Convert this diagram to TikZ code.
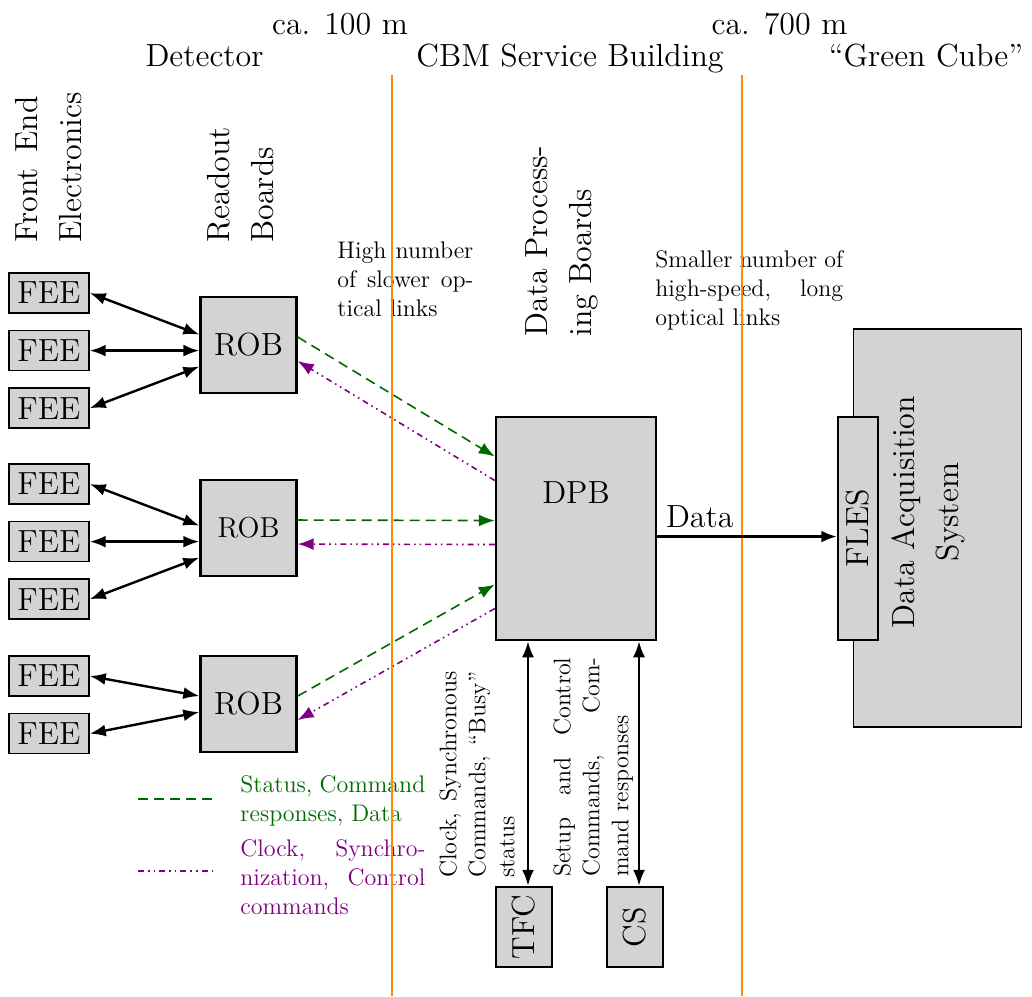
\documentclass[tikz,border=0pt,12pt]{standalone}
\usepackage{fontspec}
\setmainfont{lmroman12-regular.otf}
\usepackage{graphicx}
\usepackage{tikz}
\usetikzlibrary{positioning,calc,arrows.meta}

\definecolor{boxgray}{RGB}{211,211,211}
\definecolor{datagreen}{RGB}{0,105,0}
\definecolor{ctrlpurple}{RGB}{128,0,128}
\definecolor{siteorange}{RGB}{255,140,0}
\newcommand\bigtext{\fontsize{16}{22}\selectfont}

\begin{document}
\begin{tikzpicture}[
	  >={Latex[length=8pt,width=6pt]},
	  fee/.style={draw,thick,fill=boxgray,font=\bigtext,minimum width=40pt,minimum height=20pt,inner sep=0pt},
	  rob/.style={draw,very thick,fill=boxgray,font=\bigtext,minimum size=48pt,inner sep=0pt},
	  bigbox/.style={draw,very thick,fill=boxgray,font=\bigtext,inner sep=0pt},
	  vlabel/.style={rotate=90,anchor=north west,inner sep=0pt,font=\bigtext,align=left},
	  note/.style={anchor=north west,inner sep=0pt,align=left},
	  link/.style={very thick,<->},
	  datalink/.style={thick,datagreen,dash pattern=on 5pt off 3pt},
	  ctrllink/.style={thick,ctrlpurple,dash pattern=on 3pt off 2pt on 0.8pt off 2pt on 0.8pt off 2pt},
	  node distance=8pt
	]
		\useasboundingbox (0,0) rectangle (18.135,17.503);

		\node [font=\bigtext,anchor=base] (dist1) at (5.975,16.905) {ca. 100 m};
		\node [font=\bigtext,anchor=base] (dist2) at (13.698,16.905) {ca. 700 m};
		\node [font=\bigtext,anchor=base] (site1) at (3.594,16.343) {Detector};
		\node [font=\bigtext,anchor=base] (site2) at (10.017,16.343) {CBM Service Building};
		\node [font=\bigtext,anchor=base east] (site3) at (18.125,16.343) {“Green Cube”};

		\node [vlabel,text width=2.57cm] (feelabel) at (0.264,13.232) {Front\hfill End\\Electronics};
		\node [vlabel] (roblabel) at (3.638,13.232) {Readout\\Boards};
		\node [vlabel] (dpblabel) at (9.226,11.581) {Data Process-\\ing Boards};
		\node [note,text width=2.39cm] (slowlinks) at (5.922,13.262) {High\hfill number\\of\hfill slower\hfill op-\\tical links};
		\node [note,text width=3.30cm] (fastlinks) at (11.510,13.104) {Smaller\hfill number\hfill of\\high-speed,\hfill long\\optical links};

		\node [fee] (fee1) at (0.86,12.354) {FEE};
		\node [fee,below=of fee1] (fee2) {FEE};
		\node [fee,below=of fee2] (fee3) {FEE};
		\node [fee] (fee4) at (0.86,8.997) {FEE};
		\node [fee,below=of fee4] (fee5) {FEE};
		\node [fee,below=of fee5] (fee6) {FEE};
		\node [fee] (fee7) at (0.86,5.623) {FEE};
		\node [fee,below=of fee7] (fee8) {FEE};

		\node [rob] (rob1) at (4.367,11.44) {ROB};
		\node [rob,font=\large] (rob2) at (4.367,8.224) {ROB};
		\node [rob] (rob3) at (4.367,5.131) {ROB};

		\node [bigbox,minimum width=80pt,minimum height=111.5pt] (dpb) at (10.122,8.215) {};
		\node [font=\bigtext,anchor=north,inner sep=0pt] (dpbtext) at ([yshift=-32.5pt]dpb.north) {DPB};

		\node [draw,semithick,fill=boxgray,minimum width=84pt,minimum height=199pt] (daq) at (16.48,8.224) {};
		\node [font=\bigtext,align=center,rotate=90] (daqtext) at (16.308,8.505) {Data Acquisition\\System};
		\node [draw,thick,fill=boxgray,font=\bigtext,minimum width=20pt,minimum height=111.5pt,inner sep=0pt] (fles) at (15.078,8.215) {\rotatebox{90}{FLES}};

		\node [bigbox,minimum width=28pt,minimum height=40pt] (tfc) at (9.208,1.213) {\rotatebox{90}{TFC}};
		\node [bigbox,minimum width=28pt,minimum height=40pt] (cs) at (11.159,1.213) {\rotatebox{90}{CS}};

		\node [note,rotate=90,text width=3.62cm] (tfctext) at (7.715,2.073) {Clock,\hfill Synchronous\\Commands,\hfill “Busy”\\status};
		\node [note,rotate=90,text width=3.85cm] (cstext) at (9.718,2.091) {Setup\hfill and\hfill Control\\Commands,\hfill Com-\\mand responses};

		\foreach \f/\r/\m/\s in {1/1/2/8pt,2/1/2/0pt,3/1/2/-8pt,4/2/5/8pt,5/2/5/0pt,6/2/5/-8pt}
			\draw [link] (fee\f.east) -- ($(rob\r.west |- fee\m.east)+(0,\s)$);
		\draw [link] (fee7.east) -- ([yshift=4pt]rob3.west);
		\draw [link] (fee8.east) -- ([yshift=-4pt]rob3.west);

		\foreach \r/\g/\p in {1/36pt/24pt,2/4pt/-8pt,3/-28pt/-40pt} {
			\draw [datalink,->] ([yshift=4pt]rob\r.east) -- ([yshift=\g]dpb.west);
			\draw [ctrllink,->] ([yshift=\p]dpb.west) -- ([yshift=-8pt]rob\r.east);
		}

		\draw [link] ($(tfc.north)+(2pt,0)$) -- ($(tfc.north |- dpb.south)+(2pt,0)$);
		\draw [link] ($(cs.north)+(2pt,0)$) -- ($(cs.north |- dpb.south)+(2pt,0)$);

		\draw [datalink] (2.425,3.462) -- (3.72,3.462);
		\draw [ctrllink] (2.425,2.197) -- (3.80,2.197);
		\node [note,text width=3.25cm,text=datagreen] (datakey) at (4.218,3.878) {Status,\hfill Command\\responses, Data};
		\node [note,text width=3.25cm,text=ctrlpurple] (ctrlkey) at (4.218,2.754) {Clock,\hfill Synchro-\\nization,\hfill Control\\commands};

		\draw [siteorange,line width=1pt] (6.889,16.185) -- (6.889,0);
		\draw [siteorange,line width=1pt] (13.039,16.185) -- (13.039,0);

		\draw [line width=1.8pt,->] ([yshift=-4pt]dpb.east) -- node [pos=0,anchor=south west,inner sep=3.5pt,font=\bigtext] (datalabel) {Data} ([yshift=-4pt]fles.west);
	\end{tikzpicture}
\end{document}
